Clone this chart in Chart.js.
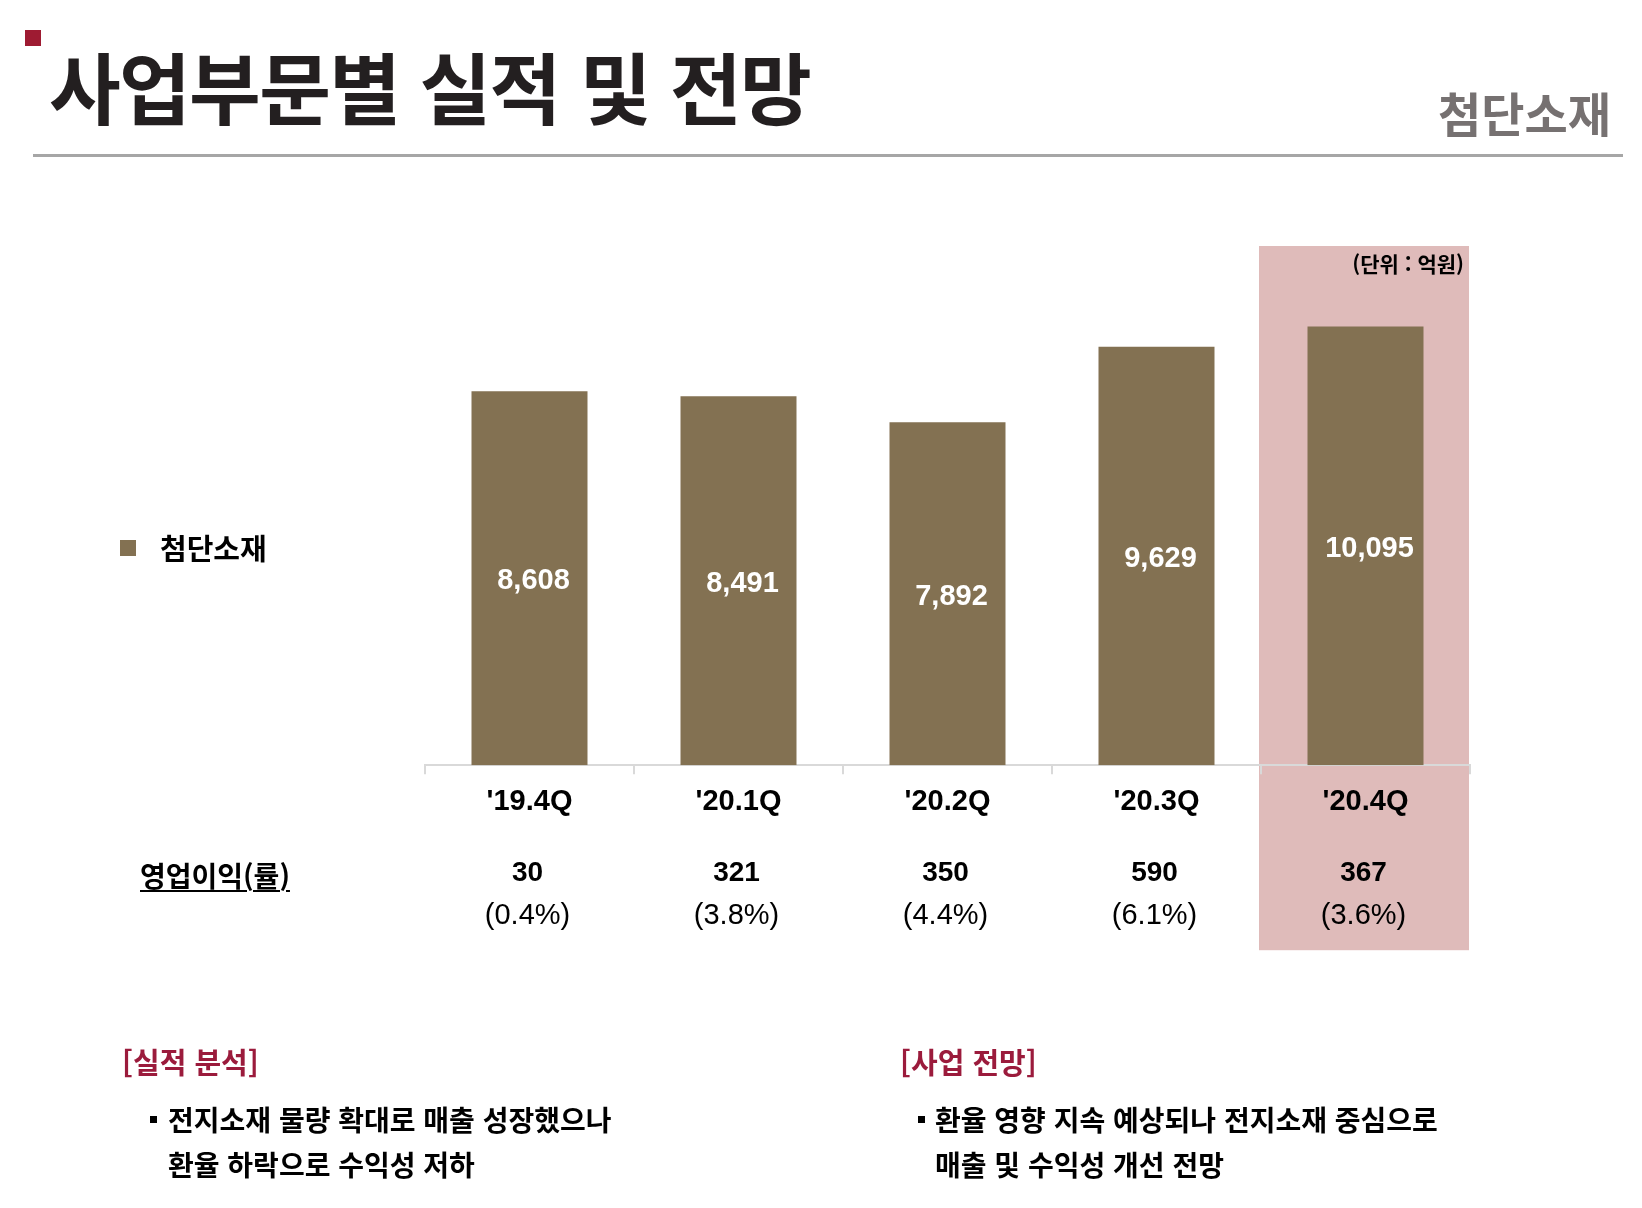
<!DOCTYPE html>
<html lang="ko">
<head>
<meta charset="utf-8">
<script src="https://cdn.jsdelivr.net/npm/chart.js@4.4.1/dist/chart.umd.min.js"></script>
<style>
  html, body { margin: 0; padding: 0; background: #ffffff; }
  #page { position: relative; width: 1642px; height: 1208px; overflow: hidden; background: #fff; }
  #chart { position: absolute; left: 0; top: 0; }
  .abs { position: absolute; white-space: nowrap; font-family: "Noto Sans CJK KR", "Noto Sans", sans-serif; }
  .redsq { position: absolute; left: 25px; top: 30px; width: 16px; height: 16px; background: #9e1b32; }
  .title { left: 49px; top: 46px; font-size: 78px; line-height: 78px; font-weight: bold; color: #231f20; letter-spacing: -1.7px; }
  .subtitle { right: 31px; top: 88px; font-size: 47px; line-height: 47px; font-weight: bold; color: #767171; }
  .hline { position: absolute; left: 33px; top: 154px; width: 1590px; height: 3px; background: #a6a6a6; }
  .unit { right: 178px; top: 253px; font-size: 21px; line-height: 21px; font-weight: bold; color: #000; }
  .legsq { position: absolute; left: 120px; top: 540px; width: 16px; height: 16px; background: #837152; }
  .legtxt { left: 160px; top: 533px; font-size: 29px; line-height: 29px; font-weight: bold; color: #000; }
  .oplabel { left: 140px; top: 861px; font-size: 28px; line-height: 28px; font-weight: bold; color: #000; text-decoration: underline; text-underline-offset: 3px; text-decoration-thickness: 2px; }
  .sect { font-size: 29px; line-height: 29px; font-weight: bold; color: #9b1b3c; top: 1047px; }
  .bul { font-size: 28px; line-height: 45px; font-weight: bold; color: #000; top: 1097px; }
  .sq { position: absolute; width: 7px; height: 7px; background: #000; }
</style>
</head>
<body>
<div id="page">
  <canvas id="chart" width="1642" height="1208"></canvas>
  <div class="redsq"></div>
  <div class="abs title">사업부문별 실적 및 전망</div>
  <div class="abs subtitle">첨단소재</div>
  <div class="hline"></div>
  <div class="abs unit">(단위 : 억원)</div>
  <div class="legsq"></div>
  <div class="abs legtxt" id="legendText"></div>
  <div class="abs oplabel">영업이익(률)</div>

  <div class="abs sect" style="left:122px;">[실적 분석]</div>
  <div class="sq" style="left:150px; top:1116px;"></div>
  <div class="abs bul" style="left:168px;">전지소재 물량 확대로 매출 성장했으나<br>환율 하락으로 수익성 저하</div>

  <div class="abs sect" style="left:900px;">[사업 전망]</div>
  <div class="sq" style="left:918px; top:1116px;"></div>
  <div class="abs bul" style="left:935px;">환율 영향 지속 예상되나 전지소재 중심으로<br>매출 및 수익성 개선 전망</div>
</div>

<script>
// ---- data ----
const categories = ["'19.4Q", "'20.1Q", "'20.2Q", "'20.3Q", "'20.4Q"];
const seriesName = "첨단소재";
const sales = [8608, 8491, 7892, 9629, 10095];
const opProfit = [30, 321, 350, 590, 367];
const opMargin = [0.4, 3.8, 4.4, 6.1, 3.6];
const highlightIndex = 4;

document.getElementById('legendText').textContent = seriesName;

const BAR_COLOR = '#837152';
const PINK = '#dfbbba';

const highlightPlugin = {
  id: 'highlight',
  beforeDraw(chart) {
    const x = chart.scales.x;
    const area = chart.chartArea;
    const band = x.width / categories.length;
    const cx = x.getPixelForValue(highlightIndex);
    const ctx = chart.ctx;
    ctx.save();
    ctx.fillStyle = PINK;
    ctx.fillRect(cx - band / 2 - 2, area.top, band + 1, area.bottom - area.top + 185);
    ctx.restore();
  }
};

const labelsPlugin = {
  id: 'valueLabels',
  afterDatasetsDraw(chart) {
    const ctx = chart.ctx;
    const meta = chart.getDatasetMeta(0);
    ctx.save();
    ctx.fillStyle = '#ffffff';
    ctx.font = 'bold 29px "Liberation Sans", Arial, sans-serif';
    ctx.textAlign = 'center';
    ctx.textBaseline = 'middle';
    meta.data.forEach((bar, i) => {
      const y = (bar.y + bar.base) / 2 + 3;
      ctx.fillText(sales[i].toLocaleString('en-US'), bar.x + 4, y);
    });
    ctx.restore();
  },
  afterDraw(chart) {
    const ctx = chart.ctx;
    const x = chart.scales.x;
    const bottom = chart.chartArea.bottom;
    ctx.save();
    ctx.fillStyle = '#000000';
    ctx.textAlign = 'center';
    ctx.textBaseline = 'middle';
    categories.forEach((c, i) => {
      const px = x.getPixelForValue(i) - 2;
      ctx.font = 'bold 28px "Liberation Sans", Arial, sans-serif';
      ctx.fillText(String(opProfit[i]), px, bottom + 108);
      ctx.font = '29px "Liberation Sans", Arial, sans-serif';
      ctx.fillText('(' + opMargin[i].toFixed(1) + '%)', px, bottom + 151);
    });
    ctx.restore();
  }
};

new Chart(document.getElementById('chart'), {
  type: 'bar',
  data: {
    labels: categories,
    datasets: [{
      label: seriesName,
      data: sales,
      backgroundColor: BAR_COLOR,
      borderWidth: 0,
      barPercentage: 0.555,
      categoryPercentage: 1.0
    }]
  },
  options: {
    responsive: false,
    devicePixelRatio: 1,
    animation: false,
    layout: { padding: { left: 425, right: 172, top: 246, bottom: 379 } },
    plugins: { legend: { display: false }, tooltip: { enabled: false } },
    scales: {
      x: {
        offset: true,
        grid: { display: true, drawOnChartArea: false, drawTicks: true, tickLength: 9, color: '#d9d9d9', lineWidth: 2, offset: true },
        border: { display: true, color: '#d9d9d9', width: 2 },
        ticks: { color: '#000', padding: 10, font: { family: '"Liberation Sans", Arial, sans-serif', size: 29, weight: 'bold' } }
      },
      y: { display: false, min: 0, max: 11950 }
    }
  },
  plugins: [highlightPlugin, labelsPlugin]
});
</script>
</body>
</html>
